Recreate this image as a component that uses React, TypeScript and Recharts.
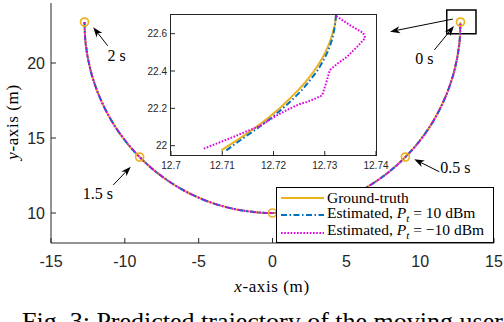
import React from 'react';
import { ComposedChart, Line, XAxis, YAxis, ReferenceLine, ReferenceArea, ReferenceDot } from 'recharts';

// main trajectory (x, y in metres)
const trackX = [-12.73, -12.7, -12.6, -12.4, -12, -11.5, -11, -10, -9, -8, -7, -6, -5, -4, -3, -2, -1, 0,
  1, 2, 3, 4, 5, 6, 7, 8, 9, 10, 11, 11.5, 12, 12.4, 12.6, 12.7, 12.73];
const trackY = [22.73, 21.86, 20.92, 19.85, 18.48, 17.27, 16.32, 14.85, 13.73, 12.83, 12.1, 11.5, 11.02, 10.64, 10.36, 10.16, 10.04, 10.0,
  10.04, 10.16, 10.36, 10.64, 11.02, 11.5, 12.1, 12.83, 13.73, 14.85, 16.32, 17.27, 18.48, 19.85, 20.92, 21.86, 22.73];

// time markers
const markerX = [12.73, 9, 0, -9, -12.73];
const markerY = [22.73, 13.73, 10, 13.73, 22.73];

const xTicks = [-15, -10, -5, 0, 5, 10, 15];
const yTicks = [10, 15, 20];

// zoomed inset near t = 0 s
const gtX = [12.7098, 12.714, 12.7166, 12.719, 12.7212, 12.7231, 12.7249, 12.7265, 12.7279, 12.7291, 12.7301, 12.7309, 12.7315, 12.732, 12.7322];
const gtY = [21.975, 22.05, 22.1, 22.15, 22.2, 22.25, 22.3, 22.35, 22.4, 22.45, 22.5, 22.55, 22.6, 22.65, 22.7];
const p10X = [12.7108, 12.7146, 12.7172, 12.7196, 12.7218, 12.7238, 12.7256, 12.7271, 12.7285, 12.7296, 12.7305, 12.7312, 12.7317, 12.732, 12.7322];
const p10Y = [21.975, 22.05, 22.1, 22.15, 22.2, 22.25, 22.3, 22.35, 22.4, 22.45, 22.5, 22.55, 22.6, 22.65, 22.7];
const m10X = [12.7064, 12.712, 12.7175, 12.7205, 12.7226, 12.725, 12.7265, 12.7285, 12.7295, 12.7302, 12.7306, 12.731, 12.7325, 12.7343, 12.7363, 12.7379, 12.7375, 12.7349, 12.7322];
const m10Y = [21.984, 22.045, 22.108, 22.16, 22.191, 22.222, 22.234, 22.256, 22.27, 22.33, 22.368, 22.405, 22.44, 22.475, 22.529, 22.577, 22.604, 22.646, 22.695];

const insetXTicks = [12.7, 12.71, 12.72, 12.73, 12.74];
const insetYTicks = [22, 22.2, 22.4, 22.6];

// annotation arrows: tail -> head, and label position
const notes = [
  { label: '2 s', x1: -11.16, y1: 21.15, x2: -12.14, y2: 22.38, tx: -10.55, ty: 20.53 },
  { label: '1.5 s', x1: -10.78, y1: 11.87, x2: -9.6, y2: 13.09, tx: -11.82, ty: 11.3 },
  { label: '0.5 s', x1: 11.3, y1: 12.75, x2: 9.6, y2: 13.58, tx: 12.38, ty: 13.03 },
  { label: '0 s', x1: 10.96, y1: 20.87, x2: 12.29, y2: 22.47, tx: 10.29, ty: 20.27 },
  { label: '', x1: 12.22, y1: 22.93, x2: 7.96, y2: 22.09, tx: 0, ty: 0 },
];

const zip = (xs: number[], ys: number[]) => xs.map((x, i) => ({ x, y: ys[i] }));

const ORANGE = '#EDB120';
const BLUE = '#0072BD';
const MAGENTA = '#E000E0';
const AX = '#262626';
const SANS = '"Liberation Sans", Arial, sans-serif';
const SERIF = '"Liberation Serif", "Times New Roman", serif';

const ArrowShape = (p: any) => {
  const { x1, y1, x2, y2 } = p;
  const a = Math.atan2(y2 - y1, x2 - x1);
  const len = 10, half = 3.6;
  const c = Math.cos(a), s = Math.sin(a);
  const bx = x2 - len * c, by = y2 - len * s;
  const nx = -s * half, ny = c * half;
  const mx = x2 - len * 0.72 * c, my = y2 - len * 0.72 * s;
  return (
    <g>
      <line x1={x1} y1={y1} x2={mx} y2={my} stroke="#000" strokeWidth={1} />
      <polygon points={`${x2},${y2} ${bx + nx},${by + ny} ${mx},${my} ${bx - nx},${by - ny}`} fill="#000" />
    </g>
  );
};

const legendRows = [
  { color: ORANGE, dash: undefined, text: <>Ground-truth</> },
  { color: BLUE, dash: '6 2.5 1.5 2.5', text: <>Estimated, <i>P</i><sub style={{ fontSize: 11 }}><i>t</i></sub> = 10 dBm</> },
  { color: MAGENTA, dash: '1.6 1.6', text: <>Estimated, <i>P</i><sub style={{ fontSize: 11 }}><i>t</i></sub> = −10 dBm</> },
];

export default function App() {
  const track = zip(trackX, trackY);
  const markers = zip(markerX, markerY);
  return (
    <div style={{ position: 'absolute', left: 0, top: 0, width: 504, height: 322, background: '#fff', overflow: 'hidden' }}>
      <ComposedChart width={504} height={322} margin={{ top: 3, right: 10, bottom: 49, left: 0 }}>
        <XAxis type="number" dataKey="x" domain={[-15, 15]} ticks={xTicks} interval={0} allowDataOverflow
          height={30} tickSize={-5} tickMargin={18} stroke={AX}
          tick={{ fill: AX, fontSize: 16, fontFamily: SANS }} />
        <XAxis xAxisId="top" orientation="top" type="number" dataKey="x" domain={[-15, 15]} ticks={xTicks} interval={0}
          allowDataOverflow height={0} tickSize={-5} tickFormatter={() => ''} stroke={AX} />
        <YAxis type="number" domain={[8, 24]} ticks={yTicks} interval={0} allowDataOverflow width={51}
          tickSize={-5} tickMargin={11} stroke={AX} tick={{ fill: AX, fontSize: 16, fontFamily: SANS }} />
        <YAxis yAxisId="right" orientation="right" type="number" domain={[8, 24]} ticks={yTicks} interval={0}
          allowDataOverflow width={0} tickSize={-5} tickFormatter={() => ''} stroke={AX} />

        <Line data={track} dataKey="y" type="monotone" stroke={ORANGE} strokeWidth={2} dot={false} isAnimationActive={false} />
        <Line data={track} dataKey="y" type="monotone" stroke={BLUE} strokeWidth={2} strokeDasharray="6 2.5 1.5 2.5" dot={false} isAnimationActive={false} />
        <Line data={track} dataKey="y" type="monotone" xAxisId="top" yAxisId="right" stroke={MAGENTA} strokeWidth={2} strokeDasharray="1.6 1.6" dot={false} isAnimationActive={false} />
        <Line data={markers} dataKey="y" stroke="none" isAnimationActive={false}
          dot={{ r: 4, stroke: ORANGE, strokeWidth: 1.7, fill: 'none' }} />

        <ReferenceArea x1={11.8} x2={13.78} y1={21.95} y2={23.53} fill="none" stroke="#000" strokeWidth={1.5} ifOverflow="visible" />
        {notes.map((n, i) => (
          <ReferenceLine key={'a' + i} segment={[{ x: n.x1, y: n.y1 }, { x: n.x2, y: n.y2 }]} shape={ArrowShape} ifOverflow="visible" />
        ))}
        {notes.filter((n) => n.label).map((n, i) => (
          <ReferenceDot key={'t' + i} x={n.tx} y={n.ty} r={0} ifOverflow="visible"
            shape={(p: any) => (
              <text x={p.cx} y={p.cy} textAnchor="middle" dominantBaseline="central" fontSize={16} fontFamily={SERIF} fill="#000">{n.label}</text>
            )} />
        ))}
      </ComposedChart>

      {/* inset: white plot background with its box, then the chart on top */}
      <div style={{ position: 'absolute', left: 170, top: 14, width: 207, height: 142, boxSizing: 'border-box', border: `1px solid ${AX}`, background: '#fff' }} />
      <div style={{ position: 'absolute', left: 120, top: 5 }}>
        <ComposedChart width={275} height={172} margin={{ top: 10, right: 19, bottom: 0, left: 0 }}>
          <XAxis type="number" dataKey="x" domain={[12.7, 12.74]} ticks={insetXTicks} interval={0} allowDataOverflow axisLine={false}
            height={22} tickSize={-4} tickMargin={10.5} stroke={AX} tick={{ fill: AX, fontSize: 10, fontFamily: SANS }} />
          <XAxis xAxisId="itop" orientation="top" type="number" dataKey="x" domain={[12.7, 12.74]} ticks={insetXTicks} interval={0}
            allowDataOverflow axisLine={false} height={0} tickSize={-4} tickFormatter={() => ''} stroke={AX} />
          <YAxis type="number" domain={[21.95, 22.7]} ticks={insetYTicks} interval={0} allowDataOverflow width={51} axisLine={false}
            tickSize={-4} tickMargin={8} stroke={AX} tick={{ fill: AX, fontSize: 10, fontFamily: SANS }} />
          <YAxis yAxisId="iright" orientation="right" type="number" domain={[21.95, 22.7]} ticks={insetYTicks} interval={0}
            allowDataOverflow axisLine={false} width={0} tickSize={-4} tickFormatter={() => ''} stroke={AX} />
          <Line data={zip(gtX, gtY)} dataKey="y" type="monotoneY" stroke={ORANGE} strokeWidth={2} dot={false} isAnimationActive={false} />
          <Line data={zip(p10X, p10Y)} dataKey="y" type="monotoneY" stroke={BLUE} strokeWidth={2} strokeDasharray="6 2.5 1.5 2.5" dot={false} isAnimationActive={false} />
          <Line data={zip(m10X, m10Y)} dataKey="y" type="linear" xAxisId="itop" yAxisId="iright" stroke={MAGENTA} strokeWidth={2} strokeDasharray="1.6 1.6" dot={false} isAnimationActive={false} />
        </ComposedChart>
      </div>

      {/* legend */}
      <div style={{ position: 'absolute', left: 276, top: 187, width: 218, height: 56, boxSizing: 'border-box', border: '1px solid #000', background: '#fff', fontFamily: SERIF, fontSize: 15.5, color: '#000', paddingTop: 1 }}>
        {legendRows.map((r, i) => (
          <div key={i} style={{ display: 'flex', alignItems: 'center', height: 17.5, whiteSpace: 'nowrap', lineHeight: '17px' }}>
            <svg width={50} height={10} style={{ flex: 'none' }}>
              <line x1={4} y1={5} x2={47} y2={5} stroke={r.color} strokeWidth={2} strokeDasharray={r.dash} />
            </svg>
            <span>{r.text}</span>
          </div>
        ))}
      </div>

      {/* axis titles and caption */}
      <div style={{ position: 'absolute', left: 272, top: 278, transform: 'translateX(-50%)', fontFamily: SERIF, fontSize: 17, lineHeight: '17px', whiteSpace: 'nowrap', letterSpacing: 0.6 }}>
        <i>x</i>-axis (m)
      </div>
      <div style={{ position: 'absolute', left: 12, top: 122, transform: 'translate(-50%, -50%) rotate(-90deg)', fontFamily: SERIF, fontSize: 17, lineHeight: '17px', whiteSpace: 'nowrap', letterSpacing: 0.6 }}>
        <i>y</i>-axis (m)
      </div>
      <div style={{ position: 'absolute', left: 22, top: 309, fontFamily: SERIF, fontSize: 26, lineHeight: '26px', whiteSpace: 'nowrap' }}>
        Fig. 3: Predicted trajectory of the moving user
      </div>
    </div>
  );
}
